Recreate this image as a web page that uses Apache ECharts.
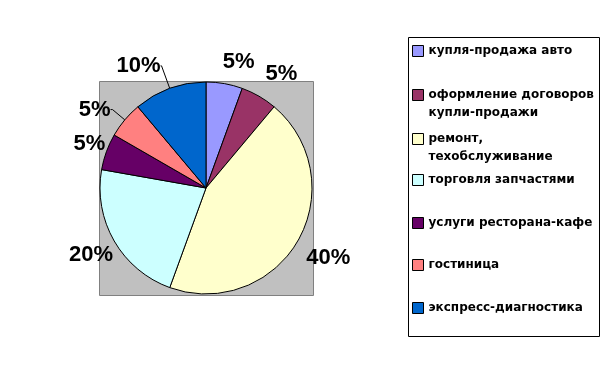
<!DOCTYPE html>
<html><head><meta charset="utf-8">
<script src="https://cdn.jsdelivr.net/npm/echarts@6/dist/echarts.min.js"></script>
<style>html,body{margin:0;padding:0;background:#fff}#c{width:609px;height:376px}</style>
</head><body><div id="c"></div>
<script>
const categories = ['купля-продажа авто', 'оформление договоров\nкупли-продажи', 'ремонт,\nтехобслуживание', 'торговля запчастями', 'услуги ресторана-кафе', 'гостиница', 'экспресс-диагностика'];
const values = [5, 5, 40, 20, 5, 5, 10];
const colors = ['#9999FF', '#993366', '#FFFFCC', '#CCFFFF', '#660066', '#FF8080', '#0066CC'];

const chart = echarts.init(document.getElementById('c'), null, {renderer: 'canvas'});
const cx = 206, cy = 188, R = 106;
// label geometry per slice (style only)
const lineLen = [24, 31, 33, 28, 18, 16, 24];
const lineLen2 = [0, 0, 0, 0, 0, 2, 1];
const useLine = [false, false, false, false, false, true, true];
const labelShift = [[10, 2], [7, 5], [2, 0], [1, 0], [0, -2], [0, 0], [0, 0]];
const legendCenters = [51, 95, 139, 180, 223, 265, 308];

const legends = categories.map((name, i) => {
  const multi = name.indexOf('\n') >= 0;
  return {
    orient: 'vertical', left: 412, top: multi ? legendCenters[i] - 27 : legendCenters[i] - 9,
    padding: 0, itemWidth: 11, itemHeight: 11, itemGap: 0,
    icon: 'rect', selectedMode: false,
    itemStyle: {borderColor: '#000', borderWidth: 1},
    formatter: n => (n.indexOf('\n') >= 0 ? '\n' + n : n),
    textStyle: {fontFamily: 'DejaVu Sans', fontSize: 12, fontWeight: 'bold', color: '#000', lineHeight: 18},
    data: [name]
  };
});

chart.setOption({
  animation: false,
  backgroundColor: '#fff',
  color: colors,
  graphic: [
    {type: 'rect', shape: {x: 99.5, y: 81.5, width: 214, height: 214}, style: {fill: '#C0C0C0', stroke: '#808080', lineWidth: 1}, z: -10},
    {type: 'rect', shape: {x: 408.5, y: 37.5, width: 191, height: 299}, style: {fill: 'none', stroke: '#000', lineWidth: 1}, z: -10}
  ],
  legend: legends,
  series: [{
    type: 'pie',
    center: [cx, cy], radius: R,
    startAngle: 90, clockwise: true,
    avoidLabelOverlap: false,
    itemStyle: {borderColor: '#000', borderWidth: 1},
    emphasis: {disabled: true},
    labelLayout: function (p) {
      const s = labelShift[p.dataIndex];
      return useLine[p.dataIndex] ? {} : {align: 'center', dx: s[0], dy: s[1]};
    },
    data: categories.map((n, i) => ({
      name: n, value: values[i],
      label: {show: true, position: 'outside', formatter: '{c}%', distanceToLabelLine: 0,
        fontFamily: 'Liberation Sans', fontWeight: 'bold', fontSize: 22, color: '#000'},
      labelLine: {show: useLine[i], length: lineLen[i], length2: lineLen2[i], smooth: false,
        lineStyle: {color: '#000', width: 1}}
    }))
  }]
});
</script></body></html>
